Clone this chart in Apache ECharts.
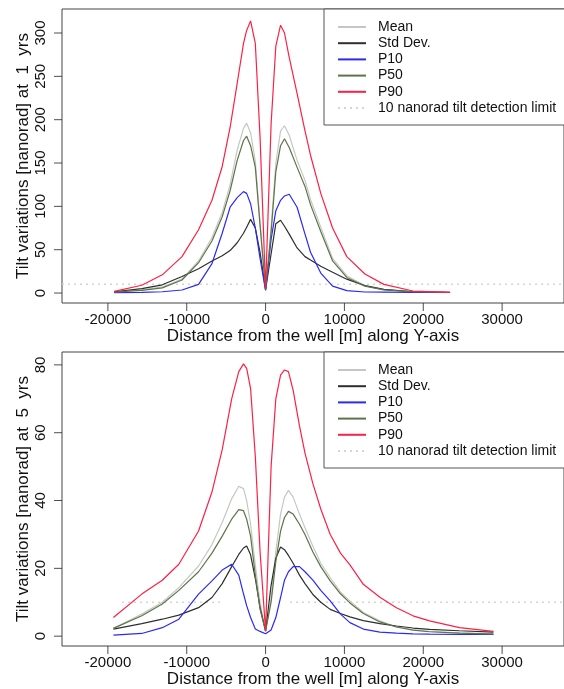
<!DOCTYPE html>
<html>
<head>
<meta charset="utf-8">
<script src="https://cdn.jsdelivr.net/npm/echarts@6/dist/echarts.min.js"></script>
<style>
html,body{margin:0;padding:0;background:#fff;}
#c{width:564px;height:689px;}
</style>
</head>
<body>
<div id="c"></div>
<script>
// ---------- data ----------
const seriesNames = ['Mean', 'Std Dev.', 'P10', 'P50', 'P90', '10 nanorad tilt detection limit'];
const xTicks = [-20000, -10000, 0, 10000, 20000, 30000];
const yTicksTop = [0, 50, 100, 150, 200, 250, 300];
const yTicksBot = [0, 20, 40, 60, 80];

// Top panel: 1 yr
const xTop = [-19200,-15700,-13100,-10600,-8500,-6800,-5500,-4500,-3600,-2800,-2400,-1900,-1300,-700,0,700,1300,1900,2400,3000,4000,5000,5700,7000,8500,10300,12600,15000,18700,23400];
const meanTop = [1.2,3.8,7,16,37,64,93,125,165,190,196,185,152,82,4,75,150,187,193,182,153,130,108,76,40,20,8.5,4,1.6,0.7];
const stdTop  = [1.5,5,9.5,19,28,37,43,49,58,69,76,85,75,47,4,45,80,84,77,68,52,42,38,31,24,16,8.5,4.2,1.5,0.8];
const p10Top  = [0.5,0.8,1.5,3.5,10,34,69,99,110,117,115,103,75,40,3,62,95,107,112,114,99,68,47,23,8,2.7,1.2,1,0.8,0.6];
const p50Top  = [1,3,6,15,35,60,88,118,153,176,181,170,145,78,4,70,140,170,178,168,145,123,102,71,37,18,8,3.6,1.5,0.6];
const p90Top  = [2,9,21,42,73,107,146,191,242,288,303,314,288,180,5,195,285,309,300,272,230,187,159,115,75,42,22,10,2.3,0.8];
const detTopX = [-25820,-700,0,700,37850];
const detTopY = [10,10,null,10,10];

// Bottom panel: 5 yrs
const xBot = [-19300,-15700,-13100,-11000,-8500,-6800,-5500,-4300,-3400,-2800,-2400,-1900,-1300,-700,0,700,1300,1900,2400,2900,3500,4300,5000,6000,7000,8200,9500,10700,12400,14500,16600,18700,20800,24600,28900];
const meanBot = [2.3,6.5,10,14.3,20.7,27,33.5,40.5,44.2,43.5,40,33,21,10,1.5,11,25,36,41,43,41,36,32,26.5,21.5,17.3,13,10.4,7,4.5,2.7,1.9,1.4,1,0.7];
const stdBot  = [2.1,3.7,5,6.2,8.4,11.4,15.5,20.5,24.1,26,26.6,24,17,8.4,1.5,15,23,26.3,25.5,23.8,21.5,18,15.5,12.3,10,7.9,6.7,5.7,4.6,3.7,3,2.4,2,1.6,1.2];
const p10Bot  = [0.3,0.8,2.5,5,12.4,16.3,19.5,21.2,18,12.5,9,5.5,2.1,1.4,0.7,1.8,5.5,11.4,16.5,19,20.5,20.5,19,16.5,13.5,10.4,6.5,4,2.1,1.2,0.9,0.7,0.6,0.5,0.5];
const p50Bot  = [2.3,6,9.5,13.5,19,24.5,29.5,34.5,37.3,37,34.5,29.5,18,8,1.5,10,22,31,35,36.8,36,33,30,24.8,20.5,16.3,12.5,9.8,6.7,4.2,2.7,1.8,1.3,0.9,0.6];
const p90Bot  = [5.5,12.4,16.5,21.2,31,42.5,55,70,78,80.3,79,73,53,25,1.5,50,70,77,78.5,78,72.5,62,54,45,37.5,30,24.5,21,15.3,11.5,8.4,6,4.5,2.5,1.4];
const detBotX = [-18200,-5300,0,3100,37850];
const detBotY = [10,10,null,10,10];

// axis ranges (R-style 4% padding)
const X_MIN = -25820, X_MAX = 37850;
const Y_RANGE_TOP = [-11.5, 327.7];
const Y_RANGE_BOT = [-2.9, 83.8];

// ---------- styling ----------
const FONT = "'Liberation Sans', Arial, Helvetica, sans-serif";
const colors = {
  'Mean': '#c4c8c4',
  'Std Dev.': '#2e2e2e',
  'P10': '#2a2af5',
  'P50': '#5d7448',
  'P90': '#ff1f44',
  '10 nanorad tilt detection limit': '#d4d4d4'
};

function zip(xs, ys) { return xs.map((x, i) => [x, ys[i] == null ? '-' : ys[i]]); }

function tickSeries(idx, yRange, yTicks) {
  return [
    { // y-axis tick marks (outward)
      type: 'scatter', xAxisIndex: idx, yAxisIndex: idx, silent: true, clip: false,
      data: yTicks.map(v => [X_MIN, v]), symbol: 'rect', symbolSize: [8, 1], symbolOffset: [-4, 0],
      itemStyle: { color: '#222' }, z: 10
    },
    { // x-axis tick marks (outward)
      type: 'scatter', xAxisIndex: idx, yAxisIndex: idx, silent: true, clip: false,
      data: xTicks.map(v => [v, yRange[0]]), symbol: 'rect', symbolSize: [1, 8], symbolOffset: [0, 4],
      itemStyle: { color: '#222' }, z: 10
    }
  ];
}

function mkSeries(idx, xs, sets, detX, detY) {
  const out = [];
  const names = ['Mean', 'Std Dev.', 'P10', 'P50', 'P90'];
  names.forEach((n, k) => {
    out.push({
      name: n, type: 'line', xAxisIndex: idx, yAxisIndex: idx,
      data: zip(xs, sets[k]), symbol: 'none', showSymbol: false, smooth: false,
      lineStyle: { color: colors[n], width: 1.2 }, itemStyle: { color: colors[n] },
      z: 3 + k
    });
  });
  out.push({
    name: '10 nanorad tilt detection limit', type: 'line', xAxisIndex: idx, yAxisIndex: idx,
    data: zip(detX, detY), symbol: 'none', showSymbol: false, connectNulls: false,
    lineStyle: { color: colors['10 nanorad tilt detection limit'], width: 1.5, type: [2, 4] },
    itemStyle: { color: colors['10 nanorad tilt detection limit'] }, z: 2
  });
  return out;
}

const fmt = v => String(v);

function xAxisCfg(idx) {
  return {
    type: 'value', gridIndex: idx, min: X_MIN, max: X_MAX,
    splitLine: { show: false }, axisLine: { show: false, onZero: false },
    axisTick: { show: false },
    axisLabel: { customValues: xTicks, fontSize: 15, margin: 9, color: '#111', fontFamily: FONT, formatter: fmt },
    name: 'Distance from the well [m] along Y-axis', nameLocation: 'middle', nameGap: 25, nameMoveOverlap: false,
    nameTextStyle: { fontSize: 17, color: '#111', fontFamily: FONT }
  };
}
function yAxisCfg(idx, range, ticks, title) {
  return {
    type: 'value', gridIndex: idx, min: range[0], max: range[1],
    splitLine: { show: false }, axisLine: { show: false, onZero: false },
    axisTick: { show: false },
    axisLabel: { customValues: ticks, fontSize: 15, margin: 14, rotate: 90, color: '#111', fontFamily: FONT, formatter: fmt },
    name: title, nameLocation: 'middle', nameGap: 30, nameRotate: 90, nameMoveOverlap: false,
    nameTextStyle: { fontSize: 17, color: '#111', fontFamily: FONT }
  };
}
function legendCfg(top) {
  return {
    data: seriesNames, orient: 'vertical', left: 324, top: top,
    padding: [11, 30, 10, 13], itemWidth: 28, itemHeight: 14, itemGap: 2.2,
    borderColor: '#555', borderWidth: 1, backgroundColor: '#fff',
    selectedMode: false,
    itemStyle: { opacity: 0 },
    textStyle: { fontSize: 14, color: '#111', fontFamily: FONT, padding: [0, 0, 0, 7] }
  };
}

const chart = echarts.init(document.getElementById('c'), null, { renderer: 'canvas' });
chart.setOption({
  animation: false,
  backgroundColor: '#fff',
  textStyle: { fontFamily: FONT },
  grid: [
    { left: 62, top: 9, width: 503, height: 294, show: true, borderColor: '#444', borderWidth: 1, backgroundColor: 'transparent' },
    { left: 62, top: 352, width: 503, height: 295, show: true, borderColor: '#444', borderWidth: 1, backgroundColor: 'transparent' }
  ],
  xAxis: [xAxisCfg(0), xAxisCfg(1)],
  yAxis: [
    yAxisCfg(0, Y_RANGE_TOP, yTicksTop, 'Tilt variations [nanorad] at  1  yrs'),
    yAxisCfg(1, Y_RANGE_BOT, yTicksBot, 'Tilt variations [nanorad] at  5  yrs')
  ],
  legend: [legendCfg(9), legendCfg(352)],
  series: [].concat(
    mkSeries(0, xTop, [meanTop, stdTop, p10Top, p50Top, p90Top], detTopX, detTopY),
    mkSeries(1, xBot, [meanBot, stdBot, p10Bot, p50Bot, p90Bot], detBotX, detBotY),
    tickSeries(0, Y_RANGE_TOP, yTicksTop),
    tickSeries(1, Y_RANGE_BOT, yTicksBot)
  )
});
</script>
</body>
</html>
